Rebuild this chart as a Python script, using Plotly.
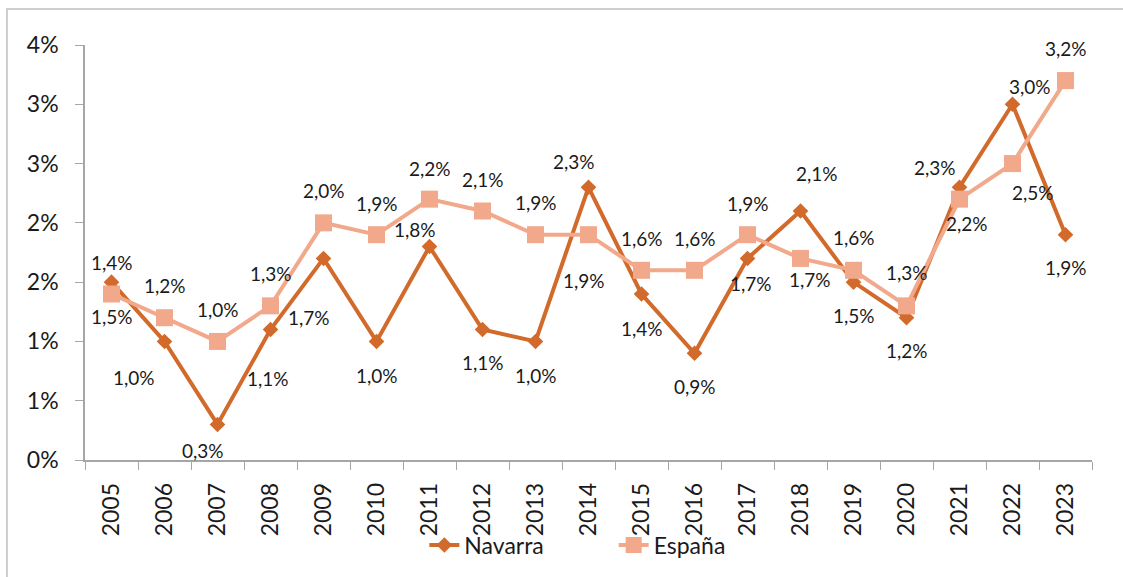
import plotly.graph_objects as go

years = ["2005", "2006", "2007", "2008", "2009", "2010", "2011", "2012", "2013", "2014",
         "2015", "2016", "2017", "2018", "2019", "2020", "2021", "2022", "2023"]
navarra = [1.5, 1.0, 0.3, 1.1, 1.7, 1.0, 1.8, 1.1, 1.0, 2.3, 1.4, 0.9, 1.7, 2.1, 1.5, 1.2, 2.3, 3.0, 1.9]
espana = [1.4, 1.2, 1.0, 1.3, 2.0, 1.9, 2.2, 2.1, 1.9, 1.9, 1.6, 1.6, 1.9, 1.7, 1.6, 1.3, 2.2, 2.5, 3.2]
y_tick_vals = [0, 0.5, 1.0, 1.5, 2.0, 2.5, 3.0, 3.5]
y_tick_text = ["0%", "1%", "1%", "2%", "2%", "3%", "3%", "4%"]

# label offsets in pixels (dx, dy; positive dy = downward)
nav_dx = [0, -31, -15, -3, -15, 0, -15, 0, 0, -15, 0, 0, 3, 16, 0, 0, -25, 17, 0]
nav_dy = [34, 36, 26, 49, 59, 34, -17, 33, 34, -26, 34, 33, 25, -38, 33, 33, -20, -18, 33]
esp_dx = [0, 0, 0, 0, 0, 0, 0, 0, 0, -5, 0, 0, 0, 9, 0, 0, 7, 20, 0]
esp_dy = [-32, -32, -32, -32, -32, -31, -31, -32, -32, 46, -32, -32, -31, 21, -33, -33, 24, 29, -32]

NAV_COLOR = "#D16A2A"
ESP_COLOR = "#F1A88B"
FONT = "Lato, sans-serif"
TXT = "#1a1a1a"

fig = go.Figure()
fig.add_trace(go.Scatter(
    x=years, y=navarra, name="Navarra", mode="lines+markers", legend="legend",
    line=dict(color=NAV_COLOR, width=4),
    marker=dict(symbol="diamond", size=12, color=NAV_COLOR),
))
fig.add_trace(go.Scatter(
    x=years, y=espana, name="España", mode="lines+markers", legend="legend2",
    line=dict(color=ESP_COLOR, width=4),
    marker=dict(symbol="square", size=17, color=ESP_COLOR),
))

def fmt(v):
    return f"{v:.1f}".replace(".", ",") + "%"

annotations = []
for i, (v, dx, dy) in enumerate(zip(navarra, nav_dx, nav_dy)):
    annotations.append(dict(x=i, y=v, xref="x", yref="y", text=fmt(v), showarrow=False,
                            xshift=dx, yshift=-dy,
                            font=dict(family=FONT, size=19, color=TXT)))
for i, (v, dx, dy) in enumerate(zip(espana, esp_dx, esp_dy)):
    annotations.append(dict(x=i, y=v, xref="x", yref="y", text=fmt(v), showarrow=False,
                            xshift=dx, yshift=-dy,
                            font=dict(family=FONT, size=19, color=TXT)))

legend_common = dict(orientation="h", xanchor="left", y=-0.202, yanchor="middle",
                     font=dict(family=FONT, size=23, color=TXT),
                     bgcolor="rgba(0,0,0,0)", itemwidth=30)

fig.update_layout(
    width=1123, height=577,
    margin=dict(l=85, r=31, t=45, b=116),
    paper_bgcolor="white", plot_bgcolor="white",
    font=dict(family=FONT, color=TXT),
    showlegend=True,
    legend=dict(x=0.337, **legend_common),
    legend2=dict(x=0.525, **legend_common),
    annotations=annotations,
    shapes=[dict(type="rect", xref="paper", yref="paper",
                 x0=-0.0775, x1=1.06, y0=-0.32, y1=1.0865,
                 line=dict(color="#BFBFBF", width=1.5), layer="below")],
)
fig.update_xaxes(
    type="category", range=[-0.5, 18.5],
    showline=True, linecolor="#A6A6A6", linewidth=1.5,
    ticks="outside", tickson="boundaries", ticklen=8, tickcolor="#A6A6A6",
    ticklabelstandoff=12,
    tickangle=-90, tickfont=dict(family=FONT, size=23, color=TXT),
    showgrid=False, zeroline=False,
)
fig.update_yaxes(
    range=[0, 3.5], tickvals=y_tick_vals, ticktext=y_tick_text,
    showline=True, linecolor="#A6A6A6", linewidth=1.5,
    ticks="outside", ticklen=8, tickcolor="#A6A6A6",
    ticklabelstandoff=12,
    tickfont=dict(family=FONT, size=23, color=TXT),
    showgrid=False, zeroline=False,
)

fig.write_html("out.html", config={"displayModeBar": False},
               post_script="document.body.style.margin='0px';")
